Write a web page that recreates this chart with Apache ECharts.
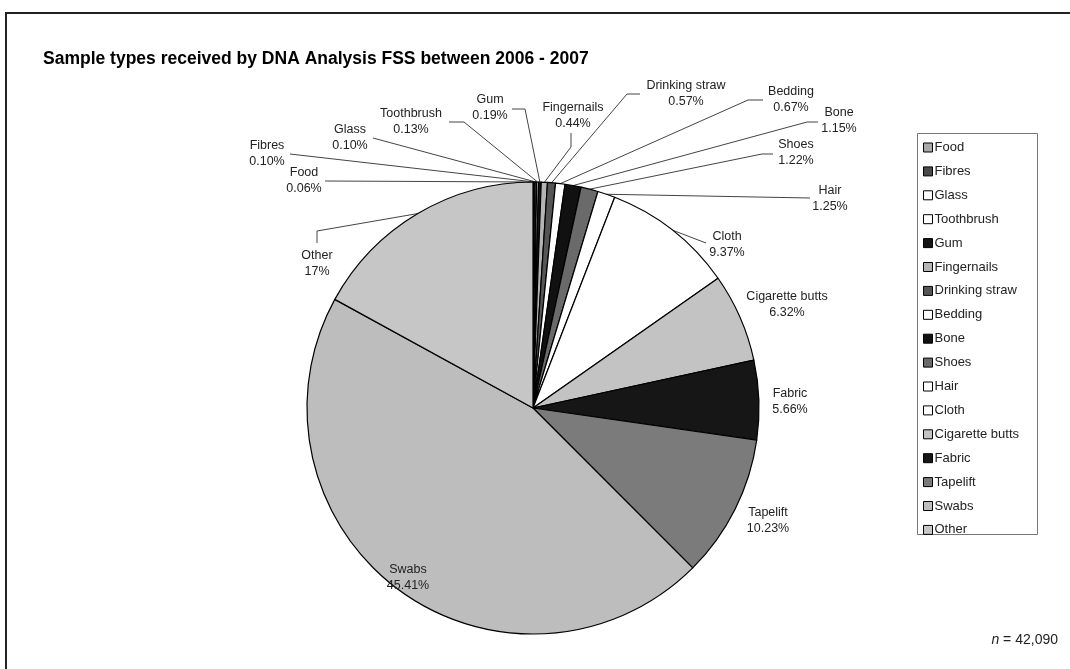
<!DOCTYPE html>
<html>
<head>
<meta charset="utf-8">
<script src="https://cdn.jsdelivr.net/npm/echarts@6/dist/echarts.min.js"></script>
<style>
html,body{margin:0;padding:0;background:#fff;}
#chart{width:1070px;height:669px;}
</style>
</head>
<body>
<div id="chart"></div>
<script>
const categories = ['Food','Fibres','Glass','Toothbrush','Gum','Fingernails','Drinking straw','Bedding','Bone','Shoes','Hair','Cloth','Cigarette butts','Fabric','Tapelift','Swabs','Other'];
const values = [0.06,0.10,0.10,0.13,0.19,0.44,0.57,0.67,1.15,1.22,1.25,9.37,6.32,5.66,10.23,45.41,17];
const sliceColors = ['#a8a8a8','#4a4a4a','#ffffff','#ffffff','#141414','#b4b4b4','#555555','#ffffff','#111111','#6a6a6a','#ffffff','#ffffff','#c3c3c3','#161616','#7b7b7b','#bdbdbd','#c6c6c6'];
const sampleCount = '42,090';

// label placement (layout only)
const labelSpots = {
  'Food': {x:304, y:181, line:[[325,181]]},
  'Fibres': {x:267, y:154, line:[[290,154]]},
  'Glass': {x:350, y:138, line:[[373,138]]},
  'Toothbrush': {x:411, y:122, line:[[464,122],[449,122]]},
  'Gum': {x:490, y:108, line:[[525,109],[512,109]]},
  'Fingernails': {x:573, y:116, line:[[571,147],[571,133]]},
  'Drinking straw': {x:686, y:94, line:[[627,94],[640,94]]},
  'Bedding': {x:791, y:100, line:[[748,100],[763,100]]},
  'Bone': {x:839, y:121, line:[[807,122],[818,122]]},
  'Shoes': {x:796, y:153, line:[[762,154],[773,154]]},
  'Hair': {x:830, y:199, line:[[810,198]]},
  'Cloth': {x:727, y:245, line:[[706,243]]},
  'Cigarette butts': {x:787, y:305},
  'Fabric': {x:790, y:402},
  'Tapelift': {x:768, y:521},
  'Swabs': {x:408, y:578},
  'Other': {x:317, y:264, line:[[317,231],[317,243]]}
};

const fmt = v => Number.isInteger(v) ? String(v) : v.toFixed(2);
const FONT = "'Liberation Sans', Arial, sans-serif";

const chart = echarts.init(document.getElementById('chart'), null, {renderer:'canvas'});
chart.setOption({
  animation: false,
  backgroundColor: '#ffffff',
  title: {
    text: 'Sample types received by DNA Analysis FSS between 2006 - 2007',
    left: 38, top: 45,
    textStyle: {fontFamily: FONT, fontSize: 17.5, fontWeight: 'bold', color: '#000'}
  },
  legend: {
    orient: 'vertical', left: 918, top: 136,
    itemWidth: 9, itemHeight: 9, itemGap: 10.9,
    icon: 'rect', selectedMode: false,
    itemStyle: {borderColor: '#000', borderWidth: 1},
    textStyle: {fontFamily: FONT, fontSize: 13, lineHeight: 13, color: '#222', padding: [0,0,0,-3]},
    data: categories
  },
  graphic: [
    {type:'rect', silent:true, shape:{x:6, y:13, width:1200, height:800}, style:{fill:'none', stroke:'#222', lineWidth:2}},
    {type:'rect', silent:true, shape:{x:917.5, y:133.5, width:120, height:401}, style:{fill:'none', stroke:'#777', lineWidth:1}},
    {type:'text', silent:true, x:1058, y:640, style:{text:'{i|n} = ' + sampleCount, rich:{i:{fontStyle:'italic', fontFamily:FONT, fontSize:14, fill:'#222'}}, fontFamily:FONT, fontSize:14, fill:'#222', align:'right', verticalAlign:'middle'}}
  ],
  series: [{
    type: 'pie',
    center: [533, 408],
    radius: 226,
    startAngle: 90,
    clockwise: true,
    avoidLabelOverlap: false,
    minShowLabelAngle: 0,
    itemStyle: {borderColor: '#000', borderWidth: 1.2},
    label: {
      show: true, position: 'outside',
      formatter: p => p.name + '\n' + fmt(p.value) + '%',
      fontFamily: FONT, fontSize: 12.5, lineHeight: 16, color: '#222', align: 'center'
    },
    labelLine: {show: true, length: 10, length2: 10, lineStyle: {color: '#444', width: 1}},
    labelLayout: function (params) {
      const name = categories[params.dataIndex];
      const spot = labelSpots[name];
      if (!spot) return {};
      const out = {x: spot.x, y: spot.y, align: 'center', verticalAlign: 'middle'};
      if (spot.line && params.labelLinePoints) {
        const start = params.labelLinePoints[0];
        const pts = [start].concat(spot.line);
        if (pts.length === 2) pts.splice(1, 0, pts[1]);
        out.labelLinePoints = pts;
      }
      return out;
    },
    emphasis: {disabled: true},
    data: categories.map((c, i) => ({
      name: c,
      value: values[i],
      itemStyle: {color: sliceColors[i]},
      labelLine: {show: !!labelSpots[c].line}
    }))
  }]
});
</script>
</body>
</html>
